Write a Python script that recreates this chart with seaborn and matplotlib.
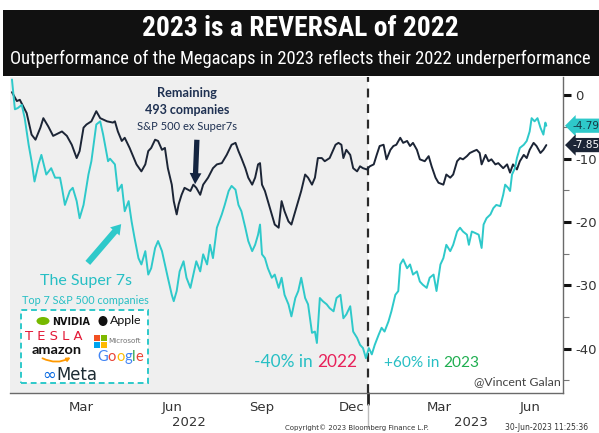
import matplotlib
matplotlib.use("Agg")
import matplotlib.pyplot as plt
import matplotlib.dates as mdates
import matplotlib.transforms as mtransforms
from matplotlib.ticker import FixedLocator
from matplotlib.patches import Rectangle, Ellipse, FancyArrowPatch
from matplotlib import font_manager as fm
import numpy as np
import pandas as pd
import seaborn as sns

# ---------------- data ----------------
BASE_DATE = "2022-01-01"
YEAR_SPLIT = "2023-01-01"

super7_days = [2, 5, 8, 12, 15, 19, 22, 25, 29, 32, 37, 42, 46, 51, 53, 56, 61, 64, 68, 71,
               75, 80, 83, 88, 92, 95, 100, 102, 107, 110, 114, 117, 121, 124, 127, 131, 134,
               138, 141, 144, 148, 151, 155, 158, 161, 165, 167, 170, 173, 177, 180, 184, 187,
               190, 194, 197, 201, 204, 207, 211, 216, 219, 223, 226, 230, 233, 236, 240, 243,
               247, 250, 253, 255, 257, 260, 263, 267, 270, 274, 277, 280, 284, 287, 291, 294,
               297, 301, 304, 308, 311, 313, 316, 319, 323, 326, 330, 333, 337, 340, 343, 347,
               350, 354, 357, 360, 363, 366, 369, 372, 376, 379, 382, 386, 389, 393, 396, 398,
               401, 405, 408, 411, 415, 418, 421, 425, 428, 432, 435, 439, 442, 445, 449, 452,
               456, 459, 462, 466, 468, 471, 474, 478, 481, 483, 486, 490, 493, 496, 500, 503,
               505, 508, 510, 512, 515, 517, 520, 524, 527, 530, 532, 535, 538, 541, 544, 546, 547]
super7_values = [2.5, -2.2, -2.0, -1.5, -3.6, -7.8, -10.4, -13.6, -10.9, -9.4, -12.5, -11.5, -13.0,
                 -13.0, -14.6, -17.3, -15.1, -14.6, -16.7, -19.4, -17.3, -12.5, -10.4, -4.6, -4.1,
                 -6.2, -10.4, -10.0, -10.9, -15.1, -14.1, -18.3, -16.7, -19.9, -22.5, -25.7, -26.7,
                 -24.6, -28.3, -27.3, -24.1, -23.0, -24.6, -26.7, -28.8, -31.5, -32.5, -30.9, -27.8,
                 -26.2, -28.8, -30.4, -28.3, -26.2, -27.8, -25.1, -26.7, -23.6, -25.7, -20.9, -18.8,
                 -17.3, -15.1, -14.3, -14.9, -17.3, -18.3, -20.9, -23.0, -24.6, -23.6, -22.0, -20.4,
                 -25.1, -25.7, -27.3, -28.8, -28.3, -30.4, -28.8, -31.5, -33.0, -34.9, -32.0, -30.9,
                 -28.8, -32.0, -33.0, -37.5, -37.3, -39.1, -32.0, -32.5, -33.0, -33.6, -34.1, -32.0,
                 -31.5, -35.2, -34.6, -33.3, -37.3, -38.3, -39.4, -39.9, -41.5, -39.9, -40.9, -39.4,
                 -37.8, -36.7, -37.3, -35.7, -34.1, -31.5, -30.9, -26.7, -25.9, -27.3, -26.7, -28.3,
                 -27.8, -29.4, -29.9, -30.4, -28.8, -28.3, -30.9, -26.7, -25.7, -23.6, -24.6, -23.6,
                 -21.5, -20.9, -21.5, -22.0, -23.6, -21.5, -21.7, -22.0, -24.1, -20.4, -19.4, -18.8,
                 -17.8, -17.3, -17.5, -15.7, -14.1, -14.6, -15.1, -12.5, -11.5, -9.9, -8.3, -7.8,
                 -7.2, -5.7, -3.6, -4.1, -3.6, -5.1, -6.2, -4.3, -4.79]

rest_days = [2, 7, 10, 17, 22, 26, 31, 34, 39, 44, 53, 58, 63, 68, 71, 75, 78, 83, 88, 92, 99,
             105, 107, 110, 114, 117, 122, 129, 134, 138, 141, 144, 148, 151, 155, 158, 161, 165,
             167, 170, 172, 175, 178, 184, 187, 190, 194, 197, 202, 207, 211, 216, 221, 226, 230,
             233, 236, 240, 243, 247, 250, 253, 255, 257, 260, 263, 267, 270, 274, 277, 280, 284,
             287, 291, 294, 297, 301, 304, 308, 311, 314, 318, 321, 326, 332, 335, 338, 340, 343,
             347, 350, 354, 357, 360, 364, 367, 371, 374, 377, 381, 384, 388, 391, 394, 398, 401,
             405, 408, 411, 415, 418, 423, 427, 430, 434, 437, 442, 445, 449, 452, 456, 459, 462,
             466, 469, 473, 476, 479, 481, 485, 488, 491, 495, 498, 503, 507, 510, 513, 517, 520,
             524, 527, 530, 534, 537, 541, 544, 547]
rest_values = [0.5, -0.9, -0.7, -2.8, -6.2, -7.0, -5.1, -3.6, -4.9, -6.4, -5.7, -6.4, -7.8, -9.9,
               -8.8, -5.1, -4.6, -4.1, -2.5, -3.6, -4.1, -4.3, -4.1, -5.7, -7.2, -6.7, -8.3, -10.9,
               -12.0, -10.9, -8.8, -8.3, -7.0, -7.2, -8.6, -8.3, -11.5, -14.1, -16.7, -18.8, -17.2,
               -15.7, -14.6, -15.1, -14.1, -14.6, -15.7, -14.1, -13.0, -11.5, -10.9, -10.7, -9.4,
               -7.8, -7.5, -8.8, -9.9, -11.5, -13.0, -14.1, -13.0, -10.9, -10.7, -14.1, -15.1,
               -16.7, -18.8, -20.4, -20.9, -16.7, -18.3, -19.9, -20.4, -18.3, -16.7, -15.1, -12.5,
               -13.0, -14.1, -13.0, -9.9, -9.9, -10.4, -9.9, -7.8, -7.5, -7.8, -9.9, -8.6, -9.4,
               -11.5, -12.0, -11.2, -11.5, -11.7, -11.2, -10.9, -9.4, -8.0, -7.8, -10.1, -8.6,
               -8.0, -7.8, -6.7, -7.5, -7.2, -8.0, -7.5, -8.6, -10.1, -10.4, -9.6, -11.2, -13.0,
               -13.8, -14.1, -12.5, -13.0, -12.5, -10.4, -9.9, -10.1, -9.6, -9.1, -8.8, -8.6, -9.1,
               -10.9, -9.4, -10.4, -10.1, -10.9, -10.7, -11.5, -10.9, -12.2, -10.9, -11.7, -10.4,
               -9.4, -9.9, -8.6, -7.5, -8.0, -9.1, -8.6, -7.85]

series_names = ["Remaining 493 companies", "The Super 7s"]
y_ticks = [0, -10, -20, -30, -40]
y_minor_ticks = [-5, -15, -25, -35, -45]
month_label_dates = ["2022-03-15", "2022-06-15", "2022-09-15", "2022-12-15", "2023-03-15", "2023-06-15"]
month_labels = ["Mar", "Jun", "Sep", "Dec", "Mar", "Jun"]
year_label_dates = ["2022-07-02", "2023-04-16"]
year_labels = ["2022", "2023"]
last_values = [super7_values[-1], rest_values[-1]]

# ---------------- style ----------------
sns.set_style("white")
names = {f.name for f in fm.fontManager.ttflist}


def pick(*cands):
    for c in cands:
        if c in names:
            return c
    return "DejaVu Sans"


COND = pick("Liberation Sans Narrow", "Roboto Condensed", "Open Sans Condensed", "DejaVu Sans")
ANNO = pick("Lato", "Open Sans", "Noto Sans", "DejaVu Sans")
plt.rcParams["font.family"] = ["DejaVu Sans"]

CYAN = "#2ec9ca"
CYAN_TXT = "#27bfc4"
NAVY = "#1c2536"
NAVY_TXT = "#1f3152"
GRAY_BG = "#efefef"

W, H = 599, 433
fig = plt.figure(figsize=(W / 100, H / 100), dpi=100, facecolor="white")
renderer = fig.canvas.get_renderer()


def fp(x, y):
    return (x / W, 1 - y / H)


def fit(t, width_px):
    w = t.get_window_extent(renderer).width
    if w > 0:
        t.set_fontsize(t.get_fontsize() * width_px / w)
    return t


# title band
fig.patches.append(Rectangle(fp(3, 76), (W - 3) / W, 66 / H, transform=fig.transFigure,
                             facecolor="#111111", edgecolor="none", zorder=0))
t = fig.text(*fp(300, 29), "2023 is a REVERSAL of 2022", ha="center", va="center",
             color="white", fontsize=20, fontweight="bold", family=[COND, "DejaVu Sans"])
fit(t, 316)
t = fig.text(*fp(300, 59), "Outperformance of the Megacaps in 2023 reflects their 2022 underperformance",
             ha="center", va="center", color="white", fontsize=12, family=[COND, "DejaVu Sans"])
fit(t, 578)

# ---------------- chart ----------------
ax = fig.add_axes([10 / W, 1 - 393 / H, (563 - 10) / W, (393 - 77) / H])
base = pd.Timestamp(BASE_DATE)
split = pd.Timestamp(YEAR_SPLIT)
df = pd.concat([
    pd.DataFrame({"date": base + pd.to_timedelta(rest_days, unit="D"),
                  "value": rest_values, "series": series_names[0]}),
    pd.DataFrame({"date": base + pd.to_timedelta(super7_days, unit="D"),
                  "value": super7_values, "series": series_names[1]}),
], ignore_index=True)

ax.set_facecolor("white")
ax.axvspan(base, split, color=GRAY_BG, lw=0, zorder=0)
sns.lineplot(data=df, x="date", y="value", hue="series", hue_order=series_names,
             palette={series_names[0]: NAVY, series_names[1]: CYAN}, estimator=None,
             sort=False, legend=False, linewidth=1.4, ax=ax, zorder=3)
ax.axvline(split, color="#2a2a2a", lw=1.6, ls=(0, (4, 3)), zorder=2)

ax.set_xlim(base, base + pd.Timedelta(days=564))
ax.set_ylim(-47.0, 2.9)
ax.set_xlabel("")
ax.set_ylabel("")

for s in ["left", "top"]:
    ax.spines[s].set_visible(False)
for s in ["right", "bottom"]:
    ax.spines[s].set_color("#6a6a6a")
    ax.spines[s].set_linewidth(1.0)

ax.yaxis.tick_right()
ax.yaxis.set_major_locator(FixedLocator(y_ticks))
ax.yaxis.set_minor_locator(FixedLocator(y_minor_ticks))
ax.set_yticklabels([str(v) for v in y_ticks])
ax.tick_params(axis="y", which="major", length=6, width=2.2, color="#111111",
               labelsize=9.5, labelcolor="#333333", pad=3, right=True, left=False)
ax.tick_params(axis="y", which="minor", length=4, width=0.8, color="#777777", right=True, left=False)

ax.xaxis.set_major_locator(FixedLocator(mdates.date2num(pd.to_datetime(month_label_dates))))
ax.set_xticklabels(month_labels)
ax.xaxis.set_minor_locator(mdates.MonthLocator())
ax.tick_params(axis="x", which="major", length=0, pad=6, labelsize=9.5, labelcolor="#333333")
ax.tick_params(axis="x", which="minor", length=4, width=0.8, color="#555555", direction="out")

blend = mtransforms.blended_transform_factory(ax.transData, ax.transAxes)
for d, lab in zip(year_label_dates, year_labels):
    ax.text(pd.Timestamp(d), -0.093, lab, transform=blend, ha="center", va="center",
            fontsize=9.5, color="#333333")
ax.plot([split, split], [0, -0.035], transform=blend, color="#222222", lw=2, clip_on=False)
ax.plot([split, split], [-0.035, -0.11], transform=blend, color="#bbbbbb", lw=1, clip_on=False)

# last value tags on the right axis
blend_y = mtransforms.blended_transform_factory(ax.transAxes, ax.transData)
for val, face, tc in zip(last_values, [CYAN, NAVY], ["#163845", "white"]):
    ax.annotate(f"{val:.2f}", xy=(1.0, val), xycoords=blend_y, xytext=(7, 0),
                textcoords="offset points", ha="left", va="center", fontsize=7.6, color=tc,
                bbox=dict(boxstyle="larrow,pad=0.2", fc=face, ec="none"), annotation_clip=False)

# ---------------- annotations ----------------
t = fig.text(*fp(187, 93), "Remaining", ha="center", va="center", fontsize=10.5,
             fontweight="bold", color=NAVY_TXT, family=ANNO)
fit(t, 60)
t = fig.text(*fp(187, 110), "493 companies", ha="center", va="center", fontsize=10.5,
             fontweight="bold", color=NAVY_TXT, family=ANNO)
fit(t, 85)
t = fig.text(*fp(187, 126), "S&P 500 ex Super7s", ha="center", va="center", fontsize=8.5,
             color=NAVY_TXT, family=ANNO)
fit(t, 100)
fig.patches.append(FancyArrowPatch(posA=fp(197, 137), posB=fp(195, 187), transform=fig.transFigure,
                                   arrowstyle="simple,head_width=0.85,head_length=0.8,tail_width=0.38",
                                   mutation_scale=10, color="#142440", lw=0, zorder=4))

fig.patches.append(FancyArrowPatch(posA=fp(86, 265), posB=fp(123, 222), transform=fig.transFigure,
                                   arrowstyle="simple,head_width=0.9,head_length=0.7,tail_width=0.45",
                                   mutation_scale=10, color=CYAN, lw=0, zorder=4))
t = fig.text(*fp(86, 281), "The Super 7s", ha="center", va="center", fontsize=12,
             color=CYAN_TXT, family=ANNO)
fit(t, 92)
t = fig.text(*fp(85, 301), "Top 7 S&P 500 companies", ha="center", va="center", fontsize=8.5,
             color=CYAN_TXT, family=ANNO)
fit(t, 126)

# logo box
fig.patches.append(Rectangle(fp(21, 383), 127 / W, 73 / H, transform=fig.transFigure,
                             facecolor="white", edgecolor=CYAN, lw=1.4, ls=(0, (3, 2)), zorder=2))


def multi_text(xc, y, pieces, size, target_w=None, **kw):
    texts = [fig.text(0, 0, s, color=c, fontsize=size, ha="left", va="center", zorder=5, **kw)
             for s, c, _ in pieces]
    probe1 = fig.text(0, 0, "x x", fontsize=size, **kw)
    probe2 = fig.text(0, 0, "xx", fontsize=size, **kw)
    gap = probe1.get_window_extent(renderer).width - probe2.get_window_extent(renderer).width
    probe1.remove(); probe2.remove()
    widths = [tt.get_window_extent(renderer).width for tt in texts]
    total = sum(widths) + gap * sum(1 for p in pieces if p[2])
    if target_w:
        k = target_w / total
        for tt in texts:
            tt.set_fontsize(size * k)
        widths = [w * k for w in widths]
        gap *= k
        total = target_w
    x = xc - total / 2
    for tt, w, p in zip(texts, widths, pieces):
        tt.set_position(fp(x, y))
        x += w + (gap if p[2] else 0)
    return texts


# NVIDIA
fig.patches.append(Ellipse(fp(43, 321), 13 / W, 8 / H, transform=fig.transFigure,
                           facecolor="#76b900", edgecolor="none", zorder=5))
t = fig.text(*fp(52, 322), "NVIDIA", ha="left", va="center", fontsize=7, fontweight="bold",
             color="#111111", zorder=5)
fit(t, 38)
# Apple
fig.patches.append(Ellipse(fp(103, 321), 9 / W, 10 / H, transform=fig.transFigure,
                           facecolor="#111111", edgecolor="none", zorder=5))
t = fig.text(*fp(110, 321), "Apple", ha="left", va="center", fontsize=8.5, color="#111111",
             family=ANNO, zorder=5)
fit(t, 32)
# Tesla
t = fig.text(*fp(54, 337), "T E S L A", ha="center", va="center", fontsize=7,
             color="#e31937", zorder=5)
fit(t, 58)
# Microsoft
for (dx, dy), col in zip([(0, 0), (7, 0), (0, 7), (7, 7)], ["#f25022", "#7fba00", "#00a4ef", "#ffb900"]):
    fig.patches.append(Rectangle(fp(94 + dx, 341 + dy), 6 / W, 6 / H, transform=fig.transFigure,
                                 facecolor=col, edgecolor="none", zorder=5))
t = fig.text(*fp(108, 341), "Microsoft", ha="left", va="center", fontsize=5.5, color="#737373",
             zorder=5)
fit(t, 33)
# Amazon
t = fig.text(*fp(57, 350), "amazon", ha="center", va="center", fontsize=9.5, fontweight="bold",
             color="#111111", family=ANNO, zorder=5)
fit(t, 50)
fig.patches.append(FancyArrowPatch(posA=fp(40, 357), posB=fp(73, 356), transform=fig.transFigure,
                                   connectionstyle="arc3,rad=0.3", arrowstyle="-|>",
                                   mutation_scale=5, color="#ff9900", lw=1.3, zorder=5))
# Google
multi_text(120, 357, [("G", "#4285F4", False), ("o", "#EA4335", False), ("o", "#FBBC05", False),
                      ("g", "#4285F4", False), ("l", "#34A853", False), ("e", "#EA4335", False)],
           11, target_w=46, family=ANNO)
# Meta
multi_text(70, 375, [("\u221e", "#0668e1", False), ("Meta", "#1c2b33", False)], 10,
           target_w=55, family=["DejaVu Sans"])

# performance labels
multi_text(306, 362, [("-40% in", CYAN_TXT, True), ("2022", "#e8215a", False)], 11,
           target_w=103, family=ANNO)
multi_text(432, 363, [("+60% in", CYAN_TXT, True), ("2023", "#1fae50", False)], 11,
           target_w=95, family=ANNO)
t = fig.text(*fp(561, 382), "@Vincent Galan", ha="right", va="center", fontsize=8.5,
             color="#444444", family=ANNO, zorder=5)
fit(t, 87)

# footer
fig.text(*fp(357, 428), "Copyright\u00a9 2023 Bloomberg Finance L.P.", ha="center", va="center",
         fontsize=5, color="#333333")
fig.text(*fp(505, 428), "30-Jun-2023 11:25:36", ha="left", va="center", fontsize=5.5,
         color="#333333")

fig.savefig("out.png", dpi=100, facecolor="white")
